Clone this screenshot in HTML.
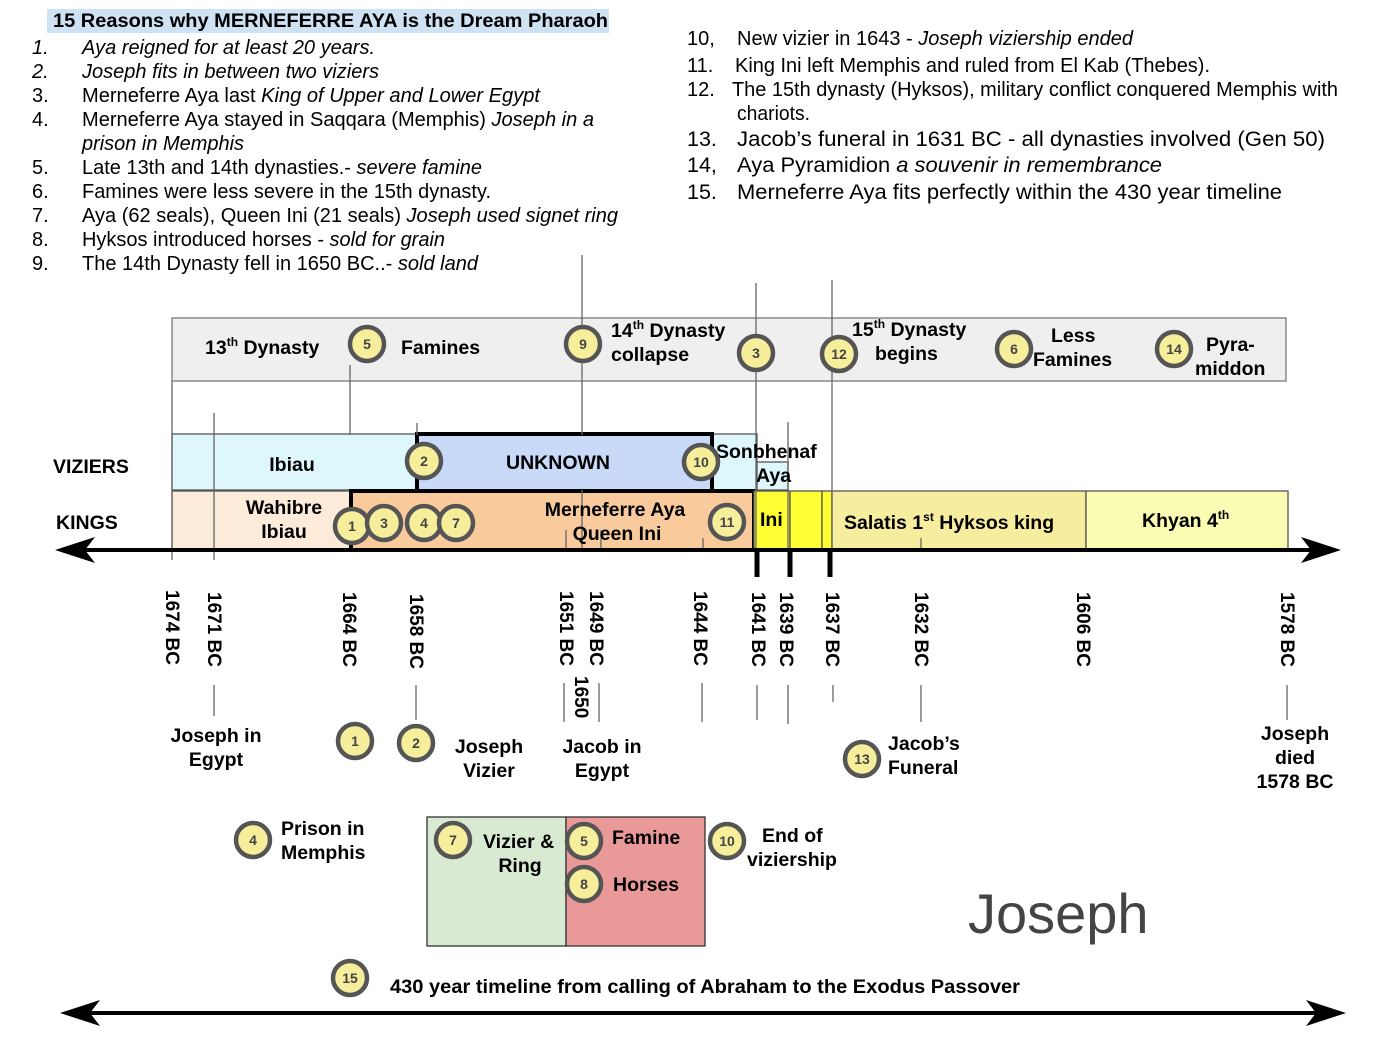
<!DOCTYPE html>
<html><head><meta charset="utf-8"><style>
body{margin:0;background:#fff}
svg{display:block}
text{font-family:"Liberation Sans",Arial,sans-serif}
.b{font-weight:bold;font-size:19.5px;fill:#000}
.l{font-size:20px;fill:#000}
.r{font-size:20px;fill:#000}
.y{font-weight:bold;font-size:19px}
.cn{font-size:14px;fill:#444;text-anchor:middle;font-weight:bold}
.g{stroke:#666;stroke-width:1.3}
</style></head><body>
<svg width="1378" height="1043" viewBox="0 0 1378 1043" xmlns="http://www.w3.org/2000/svg">
<defs>
<g id="c"><circle r="17" fill="#f6ee9a" stroke="#555" stroke-width="4.5"/></g>
</defs>
<!-- title -->
<rect x="47" y="9" width="562" height="24" fill="#cfe2f3"/>
<text x="53" y="27" class="b" style="font-size:19px" textLength="555" lengthAdjust="spacingAndGlyphs">15 Reasons why MERNEFERRE AYA is the Dream Pharaoh</text>
<!-- left list -->
<g class="l">
<text x="32" y="54" font-style="italic">1.</text><text x="82" y="54" font-style="italic" textLength="293" lengthAdjust="spacingAndGlyphs">Aya reigned for at least 20 years.</text>
<text x="32" y="78" font-style="italic">2.</text><text x="82" y="78" font-style="italic" textLength="297" lengthAdjust="spacingAndGlyphs">Joseph fits in between two viziers</text>
<text x="32" y="102">3.</text><text x="82" y="102" textLength="458" lengthAdjust="spacingAndGlyphs">Merneferre Aya last <tspan font-style="italic">King of Upper and Lower Egypt</tspan></text>
<text x="32" y="126">4.</text><text x="82" y="126" textLength="512" lengthAdjust="spacingAndGlyphs">Merneferre Aya stayed in Saqqara (Memphis) <tspan font-style="italic">Joseph in a</tspan></text>
<text x="82" y="150" font-style="italic" textLength="162" lengthAdjust="spacingAndGlyphs">prison in Memphis</text>
<text x="32" y="174">5.</text><text x="82" y="174" textLength="400" lengthAdjust="spacingAndGlyphs">Late 13th and 14th dynasties.- <tspan font-style="italic">severe famine</tspan></text>
<text x="32" y="198">6.</text><text x="82" y="198" textLength="409" lengthAdjust="spacingAndGlyphs">Famines were less severe in the 15th dynasty.</text>
<text x="32" y="222">7.</text><text x="82" y="222" textLength="536" lengthAdjust="spacingAndGlyphs">Aya (62 seals), Queen Ini (21 seals) <tspan font-style="italic">Joseph used signet ring</tspan></text>
<text x="32" y="246">8.</text><text x="82" y="246" textLength="363" lengthAdjust="spacingAndGlyphs">Hyksos introduced horses - <tspan font-style="italic">sold for grain</tspan></text>
<text x="32" y="270">9.</text><text x="82" y="270" textLength="396" lengthAdjust="spacingAndGlyphs">The 14th Dynasty fell in 1650 BC..- <tspan font-style="italic">sold land</tspan></text>
</g>
<!-- right list -->
<g class="r">
<text x="687" y="45">10,</text><text x="737" y="45" textLength="396" lengthAdjust="spacingAndGlyphs">New vizier in 1643 - <tspan font-style="italic">Joseph viziership ended</tspan></text>
<text x="687" y="72">11.</text><text x="735" y="72" textLength="475" lengthAdjust="spacingAndGlyphs">King Ini left Memphis and ruled from El Kab (Thebes).</text>
<text x="687" y="96">12.</text><text x="732" y="96" textLength="606" lengthAdjust="spacingAndGlyphs">The 15th dynasty (Hyksos), military conflict conquered Memphis with</text>
<text x="737" y="120" textLength="73" lengthAdjust="spacingAndGlyphs">chariots.</text>
<text x="687" y="146" style="font-size:21.5px">13.</text><text x="737" y="146" style="font-size:21.5px" textLength="588" lengthAdjust="spacingAndGlyphs">Jacob’s funeral in 1631 BC - all dynasties involved   (Gen 50)</text>
<text x="687" y="172" style="font-size:21.5px">14,</text><text x="737" y="172" style="font-size:21.5px" textLength="425" lengthAdjust="spacingAndGlyphs">Aya Pyramidion <tspan font-style="italic">a souvenir in remembrance</tspan></text>
<text x="687" y="199" style="font-size:21.5px">15.</text><text x="737" y="199" style="font-size:21.5px" textLength="545" lengthAdjust="spacingAndGlyphs">Merneferre Aya fits perfectly within the 430 year timeline</text>
</g>
<!-- top band -->
<rect x="172" y="318" width="1114" height="63" fill="#efefef" stroke="#888" stroke-width="1.5"/>
<text x="205" y="354" class="b">13<tspan font-size="12" dy="-8">th</tspan><tspan dy="8"> Dynasty</tspan></text>
<text x="401" y="354" class="b">Famines</text>
<text x="611" y="337" class="b">14<tspan font-size="12" dy="-8">th</tspan><tspan dy="8"> Dynasty</tspan></text>
<text x="611" y="361" class="b">collapse</text>
<text x="852" y="336" class="b">15<tspan font-size="12" dy="-8">th</tspan><tspan dy="8"> Dynasty</tspan></text>
<text x="875" y="360" class="b">begins</text>
<text x="1051" y="342" class="b">Less</text>
<text x="1033" y="366" class="b">Famines</text>
<text x="1206" y="351" class="b">Pyra-</text>
<text x="1195" y="375" class="b">middon</text>
<!-- viziers -->
<text x="53" y="473" class="b">VIZIERS</text>
<text x="56" y="529" class="b">KINGS</text>
<rect x="172" y="434" width="245" height="56" fill="#ddf7fd" stroke="#555" stroke-width="1.3"/>
<rect x="712" y="434" width="45" height="56" fill="#ddf7fd" stroke="#555" stroke-width="1.3"/>
<rect x="757" y="462" width="31" height="28" fill="#ddf7fd" stroke="#555" stroke-width="1.3"/>
<rect x="417" y="434" width="295" height="56" fill="#c9daf8"/>
<polyline points="417,490 417,434 712,434 712,490" fill="none" stroke="#000" stroke-width="4"/>
<!-- kings -->
<rect x="172" y="491" width="179" height="58" fill="#fdebd9" stroke="#555" stroke-width="1.3"/>
<rect x="351" y="491" width="403" height="58" fill="#f9cb9c" stroke="#555" stroke-width="1.3"/>
<polyline points="351,549 351,491 754,491 754,549" fill="none" stroke="#000" stroke-width="4"/>
<rect x="754" y="491" width="36" height="58" fill="#ffff33" stroke="#555" stroke-width="1.3"/>
<rect x="790" y="491" width="32" height="58" fill="#ffff33" stroke="#555" stroke-width="1.3"/>
<rect x="822" y="491" width="10" height="58" fill="#ffff33" stroke="#555" stroke-width="1.3"/>
<rect x="832" y="491" width="254" height="58" fill="#f6ed9e" stroke="#555" stroke-width="1.3"/>
<rect x="1086" y="491" width="202" height="58" fill="#f9fcb2" stroke="#555" stroke-width="1.3"/>
<!-- thin vertical lines (over boxes) -->
<g class="g">
<line x1="582" y1="255" x2="582" y2="435"/>
<line x1="756" y1="283" x2="756" y2="550"/>
<line x1="832" y1="280" x2="832" y2="492"/>
<line x1="350" y1="365" x2="350" y2="435"/>
<line x1="172" y1="381" x2="172" y2="560"/>
<line x1="214" y1="413" x2="214" y2="560"/>
<line x1="417" y1="423" x2="417" y2="435"/>
<line x1="788" y1="422" x2="788" y2="550"/>
<line x1="582" y1="490" x2="582" y2="550"/>
<line x1="566" y1="530" x2="566" y2="550"/>
<line x1="601" y1="530" x2="601" y2="550"/>
<line x1="703" y1="538" x2="703" y2="550"/>
<line x1="921" y1="538" x2="921" y2="550"/>
</g>
<text x="292" y="471" class="b" text-anchor="middle">Ibiau</text>
<text x="558" y="469" class="b" text-anchor="middle">UNKNOWN</text>
<text x="716" y="458" class="b">Sonbhenaf</text>
<text x="756" y="482" class="b">Aya</text>
<text x="284" y="514" class="b" text-anchor="middle">Wahibre</text>
<text x="284" y="538" class="b" text-anchor="middle">Ibiau</text>
<text x="615" y="516" class="b" text-anchor="middle">Merneferre Aya</text>
<text x="617" y="540" class="b" text-anchor="middle">Queen Ini</text>
<text x="760" y="526" class="b">Ini</text>
<text x="844" y="529" class="b">Salatis 1<tspan font-size="12" dy="-8">st</tspan><tspan dy="8"> Hyksos king</tspan></text>
<text x="1142" y="527" class="b">Khyan 4<tspan font-size="12" dy="-8">th</tspan></text>
<!-- axis -->
<line x1="80" y1="550" x2="1318" y2="550" stroke="#000" stroke-width="4"/>
<polygon points="55,550 95,537 85,550 95,563" fill="#000"/>
<polygon points="1341,550 1301,537 1311,550 1301,563" fill="#000"/>
<g stroke="#000" stroke-width="5">
<line x1="757" y1="550" x2="757" y2="577"/>
<line x1="790" y1="550" x2="790" y2="577"/>
<line x1="830" y1="550" x2="830" y2="577"/>
</g>
<!-- years -->
<g class="y">
<text transform="translate(166,590) rotate(90)">1674 BC</text>
<text transform="translate(208,592) rotate(90)">1671 BC</text>
<text transform="translate(343,592) rotate(90)">1664 BC</text>
<text transform="translate(410,594) rotate(90)">1658 BC</text>
<text transform="translate(560,591) rotate(90)">1651 BC</text>
<text transform="translate(590,591) rotate(90)">1649 BC</text>
<text transform="translate(694,591) rotate(90)">1644 BC</text>
<text transform="translate(752,592) rotate(90)">1641 BC</text>
<text transform="translate(780,592) rotate(90)">1639 BC</text>
<text transform="translate(826,592) rotate(90)">1637 BC</text>
<text transform="translate(915,592) rotate(90)">1632 BC</text>
<text transform="translate(1077,592) rotate(90)">1606 BC</text>
<text transform="translate(1281,592) rotate(90)">1578 BC</text>
<text transform="translate(575,676) rotate(90)">1650</text>
</g>
<g class="g">
<line x1="214" y1="685" x2="214" y2="716"/>
<line x1="416" y1="685" x2="416" y2="720"/>
<line x1="564" y1="683" x2="564" y2="722"/>
<line x1="599" y1="683" x2="599" y2="722"/>
<line x1="702" y1="683" x2="702" y2="722"/>
<line x1="757" y1="685" x2="757" y2="720"/>
<line x1="788" y1="685" x2="788" y2="724"/>
<line x1="833" y1="685" x2="833" y2="702"/>
<line x1="921" y1="685" x2="921" y2="722"/>
<line x1="1287" y1="685" x2="1287" y2="720"/>
</g>
<text x="216" y="742" class="b" text-anchor="middle">Joseph in</text>
<text x="216" y="766" class="b" text-anchor="middle">Egypt</text>
<text x="489" y="753" class="b" text-anchor="middle">Joseph</text>
<text x="489" y="777" class="b" text-anchor="middle">Vizier</text>
<text x="602" y="753" class="b" text-anchor="middle">Jacob in</text>
<text x="602" y="777" class="b" text-anchor="middle">Egypt</text>
<text x="888" y="750" class="b">Jacob’s</text>
<text x="888" y="774" class="b">Funeral</text>
<text x="1295" y="740" class="b" text-anchor="middle">Joseph</text>
<text x="1295" y="764" class="b" text-anchor="middle">died</text>
<text x="1295" y="788" class="b" text-anchor="middle">1578 BC</text>
<text x="281" y="835" class="b">Prison in</text>
<text x="281" y="859" class="b">Memphis</text>
<rect x="427" y="817" width="139" height="129" fill="#d9ead3" stroke="#333" stroke-width="1.3"/>
<rect x="566" y="817" width="139" height="129" fill="#ea9999" stroke="#333" stroke-width="1.3"/>
<text x="483" y="848" class="b">Vizier &amp;</text>
<text x="520" y="872" class="b" text-anchor="middle">Ring</text>
<text x="612" y="844" class="b">Famine</text>
<text x="613" y="891" class="b">Horses</text>
<text x="762" y="842" class="b">End of</text>
<text x="747" y="866" class="b">viziership</text>
<text x="968" y="933" style="font-size:56px;fill:#444">Joseph</text>
<text x="390" y="993" class="b" textLength="630" lengthAdjust="spacingAndGlyphs">430 year timeline from calling of Abraham to the Exodus Passover</text>
<line x1="85" y1="1013" x2="1320" y2="1013" stroke="#000" stroke-width="4"/>
<polygon points="60,1013 100,1000 90,1013 100,1026" fill="#000"/>
<polygon points="1346,1013 1306,1000 1316,1013 1306,1026" fill="#000"/>
<!-- circles -->
<g>
<use href="#c" x="367" y="344"/><text x="367" y="349" class="cn">5</text>
<use href="#c" x="583" y="344"/><text x="583" y="349" class="cn">9</text>
<use href="#c" x="756" y="353"/><text x="756" y="358" class="cn">3</text>
<use href="#c" x="839" y="354"/><text x="839" y="359" class="cn">12</text>
<use href="#c" x="1014" y="349"/><text x="1014" y="354" class="cn">6</text>
<use href="#c" x="1174" y="349"/><text x="1174" y="354" class="cn">14</text>
<use href="#c" x="424" y="461"/><text x="424" y="466" class="cn">2</text>
<use href="#c" x="701" y="462"/><text x="701" y="467" class="cn">10</text>
<use href="#c" x="352" y="526"/><text x="352" y="531" class="cn">1</text>
<use href="#c" x="384" y="523"/><text x="384" y="528" class="cn">3</text>
<use href="#c" x="424" y="523"/><text x="424" y="528" class="cn">4</text>
<use href="#c" x="456" y="523"/><text x="456" y="528" class="cn">7</text>
<use href="#c" x="727" y="522"/><text x="727" y="527" class="cn">11</text>
<use href="#c" x="355" y="741"/><text x="355" y="746" class="cn">1</text>
<use href="#c" x="416" y="743"/><text x="416" y="748" class="cn">2</text>
<use href="#c" x="862" y="759"/><text x="862" y="764" class="cn">13</text>
<use href="#c" x="253" y="840"/><text x="253" y="845" class="cn">4</text>
<use href="#c" x="453" y="840"/><text x="453" y="845" class="cn">7</text>
<use href="#c" x="584" y="841"/><text x="584" y="846" class="cn">5</text>
<use href="#c" x="584" y="884"/><text x="584" y="889" class="cn">8</text>
<use href="#c" x="727" y="841"/><text x="727" y="846" class="cn">10</text>
<use href="#c" x="350" y="978"/><text x="350" y="983" class="cn">15</text>
</g>
</svg>
</body></html>
